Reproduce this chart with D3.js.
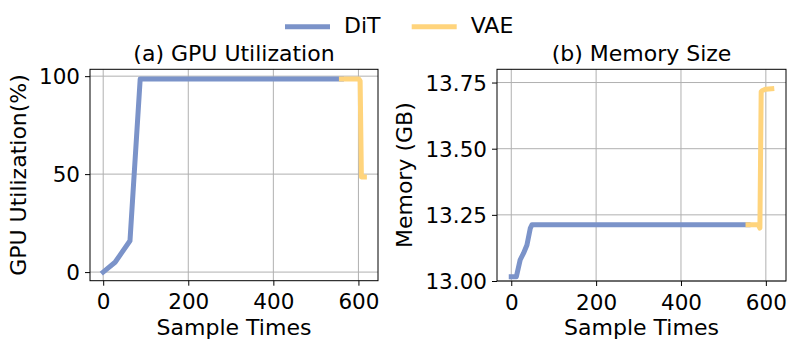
<!DOCTYPE html>
<html>
<head>
<meta charset="utf-8">
<script src="https://cdn.jsdelivr.net/npm/d3@7/dist/d3.min.js"></script>
<style>
  html, body { margin: 0; padding: 0; background: #fff; }
  svg { display: block; font-family: "DejaVu Sans", sans-serif; }
</style>
</head>
<body>
<svg id="chart" width="798" height="351"></svg>
<script>
// ---- Data ----
const seriesNames = ["DiT", "VAE"];
const seriesColors = ["#7b93c9", "#ffd47c"];

const gpuDitX = [0, 28, 63, 87, 560];
const gpuDitY = [0, 5, 16, 98.6, 98.6];
const gpuVaeX = [560, 601, 604, 607, 614];
const gpuVaeY = [98.6, 98.6, 97.5, 48.5, 48.5];

const memDitX = [0, 12, 21, 29, 37, 45, 49, 558];
const memDitY = [13.016, 13.016, 13.08, 13.105, 13.136, 13.2, 13.213, 13.213];
const memVaeX = [558, 582, 586, 589, 592, 600, 614];
const memVaeY = [13.213, 13.213, 13.2, 13.715, 13.72, 13.725, 13.727];

const xTicks = [0, 200, 400, 600];
const gpuTicks = [0, 50, 100];
const memTicks = [13.00, 13.25, 13.50, 13.75];

const titles = ["(a) GPU Utilization", "(b) Memory Size"];
const yLabels = ["GPU Utilization(%)", "Memory (GB)"];
const xLabel = "Sample Times";

// ---- Layout ----
const svg = d3.select("#chart");
const FS = 22;
const TFS = 21.5;

const panels = [
  {
    left: 90, right: 378, top: 69.3, bottom: 280.7,
    xDomain: [-31, 646], yDomain: [-4.4, 103.5],
    yTicks: gpuTicks, yFmt: d3.format("d"),
    series: [[gpuDitX, gpuDitY], [gpuVaeX, gpuVaeY]],
    title: titles[0], ylabel: yLabels[0], ylabelX: 26
  },
  {
    left: 497, right: 786, top: 69.3, bottom: 281,
    xDomain: [-33.6, 647.5], yDomain: [13.0, 13.8],
    yTicks: memTicks, yFmt: d3.format(".2f"),
    series: [[memDitX, memDitY], [memVaeX, memVaeY]],
    title: titles[1], ylabel: yLabels[1], ylabelX: 412
  }
];

panels.forEach((p, pi) => {
  const x = d3.scaleLinear().domain(p.xDomain).range([p.left, p.right]);
  const y = d3.scaleLinear().domain(p.yDomain).range([p.bottom, p.top]);
  const g = svg.append("g");

  const clipId = "clip" + pi;
  svg.append("clipPath").attr("id", clipId).append("rect")
    .attr("x", p.left).attr("y", p.top)
    .attr("width", p.right - p.left).attr("height", p.bottom - p.top);

  // grid
  const grid = g.append("g");
  grid.selectAll("line.vx").data(xTicks).join("line")
    .attr("x1", d => x(d)).attr("x2", d => x(d))
    .attr("y1", p.top).attr("y2", p.bottom)
    .attr("stroke", "#b0b0b0").attr("stroke-width", 1);
  grid.selectAll("line.hy").data(p.yTicks).join("line")
    .attr("x1", p.left).attr("x2", p.right)
    .attr("y1", d => y(d)).attr("y2", d => y(d))
    .attr("stroke", "#b0b0b0").attr("stroke-width", 1);

  // lines
  const lineGen = d3.line().x(d => x(d[0])).y(d => y(d[1]));
  const lg = g.append("g").attr("clip-path", `url(#${clipId})`);
  p.series.forEach((s, si) => {
    const pts = s[0].map((v, i) => [v, s[1][i]]);
    lg.append("path").attr("d", lineGen(pts))
      .attr("fill", "none").attr("stroke", seriesColors[si])
      .attr("stroke-width", 5)
      .attr("stroke-linejoin", "round")
      .attr("stroke-linecap", "square");
  });

  // axes
  const xAxis = d3.axisBottom(x).tickValues(xTicks).tickSize(5).tickPadding(5).tickFormat(d3.format("d"));
  const yAxis = d3.axisLeft(y).tickValues(p.yTicks).tickSize(5).tickPadding(5).tickFormat(p.yFmt);
  const xg = g.append("g").attr("transform", `translate(0,${p.bottom})`).call(xAxis);
  const yg = g.append("g").attr("transform", `translate(${p.left},0)`).call(yAxis);
  [xg, yg].forEach(a => {
    a.select(".domain").remove();
    a.selectAll("text").attr("font-size", TFS).attr("font-family", "DejaVu Sans").attr("fill", "#000");
    a.selectAll("line").attr("stroke", "#000").attr("stroke-width", 1);
  });
  xg.selectAll("text").attr("dy", null).attr("y", 0).attr("transform", "translate(0,28.6)");
  yg.selectAll("text").attr("dy", "0.36em");

  // frame
  g.append("rect").attr("x", p.left).attr("y", p.top)
    .attr("width", p.right - p.left).attr("height", p.bottom - p.top)
    .attr("fill", "none").attr("stroke", "#000").attr("stroke-width", 1);

  const cx = (p.left + p.right) / 2;
  g.append("text").attr("x", cx).attr("y", 61).attr("text-anchor", "middle")
    .attr("font-size", FS).text(p.title);
  g.append("text").attr("x", cx).attr("y", 335).attr("text-anchor", "middle")
    .attr("font-size", FS).text(xLabel);
  const cy = (p.top + p.bottom) / 2;
  g.append("text").attr("transform", `translate(${p.ylabelX},${cy}) rotate(-90)`)
    .attr("text-anchor", "middle").attr("font-size", FS).text(p.ylabel);
});

// ---- Legend ----
const legendItems = [
  { name: seriesNames[0], color: seriesColors[0], x: 285 },
  { name: seriesNames[1], color: seriesColors[1], x: 411.7 }
];
const leg = svg.append("g");
legendItems.forEach(it => {
  leg.append("line").attr("x1", it.x).attr("x2", it.x + 45)
    .attr("y1", 26.7).attr("y2", 26.7)
    .attr("stroke", it.color).attr("stroke-width", 5);
  leg.append("text").attr("x", it.x + 59).attr("y", 33.3)
    .attr("font-size", FS).text(it.name);
});
</script>
</body>
</html>
